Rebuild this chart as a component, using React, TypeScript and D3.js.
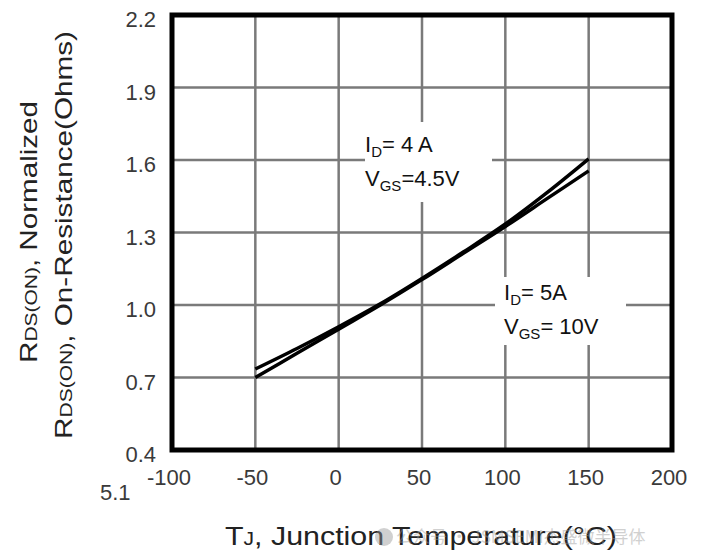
import * as React from 'react';
import * as d3 from 'd3';

const temps = [-50, -25, 0, 25, 50, 75, 100, 125, 150];
const rdsVgs45 = [0.735, 0.82, 0.91, 1.005, 1.11, 1.22, 1.335, 1.465, 1.605];
const rdsVgs10 = [0.70, 0.80, 0.90, 1.0, 1.105, 1.215, 1.325, 1.44, 1.555];
const xTicks = [-100, -50, 0, 50, 100, 150, 200];
const yTicks = [0.4, 0.7, 1.0, 1.3, 1.6, 1.9, 2.2];

const W = 702;
const H = 560;
const FONT = '"Liberation Sans", Arial, sans-serif';

export default function App() {
  const x = d3.scaleLinear().domain([-100, 200]).range([172, 672]);
  const y = d3.scaleLinear().domain([0.4, 2.2]).range([450, 15]);

  const line = d3
    .line<number>()
    .x((_, i) => x(temps[i]))
    .y((d) => y(d))
    .curve(d3.curveCatmullRom);

  return (
    <svg
      width={W}
      height={H}
      style={{ position: 'absolute', left: 0, top: 0, background: '#fff' }}
      fontFamily={FONT}
    >
      <rect width={W} height={H} fill="#fff" />
      {/* grid */}
      <g stroke="#7a7a7a" strokeWidth={2.5}>
        {xTicks.slice(1, -1).map((t) => (
          <line key={'x' + t} x1={x(t)} x2={x(t)} y1={y(2.2)} y2={y(0.4)} />
        ))}
        {yTicks.slice(1, -1).map((t) => (
          <line key={'y' + t} x1={x(-100)} x2={x(200)} y1={y(t)} y2={y(t)} />
        ))}
      </g>
      {/* label boxes hide grid */}
      <rect x={365} y={122} width={127} height={80} fill="#fff" />
      <rect x={495} y={277} width={131} height={68} fill="#fff" />
      {/* curves */}
      <g fill="none" stroke="#000" strokeWidth={3.5}>
        <path d={line(rdsVgs45) || ''} />
        <path d={line(rdsVgs10) || ''} />
      </g>
      {/* frame */}
      <rect
        x={x(-100)}
        y={y(2.2)}
        width={x(200) - x(-100)}
        height={y(0.4) - y(2.2)}
        fill="none"
        stroke="#000"
        strokeWidth={5}
      />
      {/* annotations */}
      <g fill="#111" fontSize={22}>
        <text x={365} y={152}>
          I<tspan fontSize={15} dy={5}>D</tspan>
          <tspan dy={-5}>= 4 A</tspan>
        </text>
        <text x={365} y={186}>
          V<tspan fontSize={15} dy={5}>GS</tspan>
          <tspan dy={-5}>=4.5V</tspan>
        </text>
        <text x={504} y={300}>
          I<tspan fontSize={15} dy={5}>D</tspan>
          <tspan dy={-5}>= 5A</tspan>
        </text>
        <text x={504} y={334}>
          V<tspan fontSize={15} dy={5}>GS</tspan>
          <tspan dy={-5}>= 10V</tspan>
        </text>
      </g>
      {/* y tick labels */}
      <g fill="#3a3a3a" fontSize={22} textAnchor="end">
        {yTicks.map((t) => (
          <text key={t} x={156} y={y(t) + 12}>
            {d3.format('.1f')(t)}
          </text>
        ))}
      </g>
      {/* x tick labels */}
      <g fill="#3a3a3a" fontSize={22} textAnchor="middle">
        {xTicks.map((t) => (
          <text key={t} x={x(t) - 3} y={485}>
            {t}
          </text>
        ))}
      </g>
      <text x={100} y={500} fontSize={22} fill="#3a3a3a">
        5.1
      </text>
      {/* y titles */}
      <g fill="#222" fontSize={24} textAnchor="middle">
        <text transform="translate(37,232) rotate(-90)" textLength={262} lengthAdjust="spacingAndGlyphs">
          R<tspan fontSize={17}>DS(ON)</tspan>, Normalized
        </text>
        <text transform="translate(72,235) rotate(-90)" textLength={408} lengthAdjust="spacingAndGlyphs">
          R<tspan fontSize={17}>DS(ON)</tspan>, On-Resistance(Ohms)
        </text>
      </g>
      {/* x title */}
      <text
        x={225}
        y={545}
        fontSize={26}
        fill="#222"
        textLength={392}
        lengthAdjust="spacingAndGlyphs"
      >
        T<tspan fontSize={18}>J</tspan>, Junction Temperature(°C)
      </text>
      {/* watermark */}
      <g opacity={0.45} fill="#999">
        <circle cx={384} cy={537} r={9} />
        <text x={396} y={543} fontSize={17} fontFamily='"Noto Sans CJK SC", sans-serif'>
          公众号 · JSMSEMI杰盛微半导体
        </text>
      </g>
    </svg>
  );
}
